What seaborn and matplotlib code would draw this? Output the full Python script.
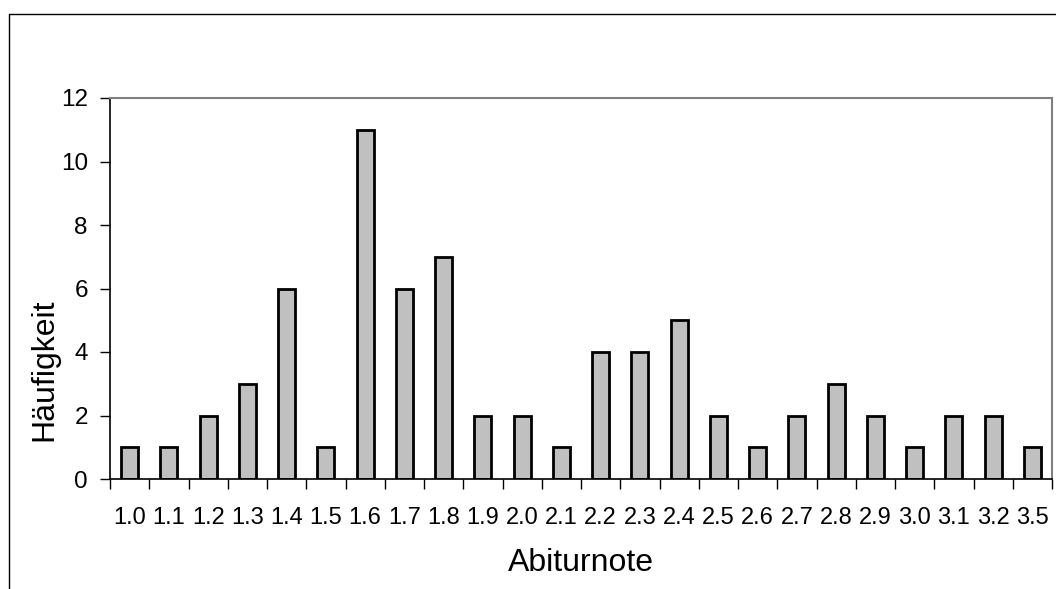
import matplotlib
matplotlib.use("Agg")
import matplotlib.pyplot as plt
from matplotlib.lines import Line2D
import seaborn as sns
import numpy as np

grades = ["1.0", "1.1", "1.2", "1.3", "1.4", "1.5", "1.6", "1.7", "1.8", "1.9", "2.0", "2.1",
          "2.2", "2.3", "2.4", "2.5", "2.6", "2.7", "2.8", "2.9", "3.0", "3.1", "3.2", "3.5"]
counts = [1, 1, 2, 3, 6, 1, 11, 6, 7, 2, 2, 1, 4, 4, 5, 2, 1, 2, 3, 2, 1, 2, 2, 1]
yticks = [0, 2, 4, 6, 8, 10, 12]

sns.set_theme(style="white")
plt.rcParams['font.family'] = ['Liberation Sans', 'DejaVu Sans']
plt.rcParams['text.color'] = 'black'
plt.rcParams['axes.labelcolor'] = 'black'
plt.rcParams['xtick.color'] = 'black'
plt.rcParams['ytick.color'] = 'black'

W, H = 1056, 589
fig = plt.figure(figsize=(W / 100, H / 100), dpi=100)
ax = fig.add_axes([110 / W, 1 - 479 / H, 942 / W, 381 / H])

sns.barplot(x=grades, y=counts, order=grades, color="#C0C0C0", saturation=1,
            width=0.43, edgecolor="black", linewidth=2, ax=ax)

ax.set_xlim(-0.5, len(grades) - 0.5)
ax.set_ylim(0, 12)
ax.set_yticks(yticks)
ax.set_yticklabels([str(v) for v in yticks], fontsize=17.5, color="black")

ax.set_xticks(np.arange(len(grades)))
ax.set_xticklabels(grades, fontsize=17, color="black")
ax.set_xticks(np.arange(-0.5, len(grades)), minor=True)
ax.tick_params(axis="x", which="major", length=0, pad=20)
ax.tick_params(axis="x", which="minor", bottom=True, length=7, width=1, color="black", direction="out")
ax.tick_params(axis="y", left=True, length=7, width=1, color="black", direction="out", pad=9)

for s in ["left", "bottom"]:
    ax.spines[s].set_color("black")
    ax.spines[s].set_linewidth(1.2)
for s in ["top", "right"]:
    ax.spines[s].set_color("#808080")
    ax.spines[s].set_linewidth(1.5)

ax.set_xlabel("Abiturnote", fontsize=23, color="black")
ax.xaxis.set_label_coords(0.5, (479 - 571) / 381)
ax.xaxis.label.set_va("baseline")
ax.set_ylabel("Häufigkeit", fontsize=23, color="black")
ax.yaxis.set_label_coords((52 - 110) / 942, (479 - 370) / 381)
ax.yaxis.label.set_va("baseline")

# outer chart frame (cut off at right and bottom)
fx = 8.5 / W
fy = 1 - 13.5 / H
fig.add_artist(Line2D([fx, fx], [0, fy], transform=fig.transFigure, color="black", linewidth=1))
fig.add_artist(Line2D([fx, 1], [fy, fy], transform=fig.transFigure, color="black", linewidth=1))

fig.savefig("out.png", dpi=100)
